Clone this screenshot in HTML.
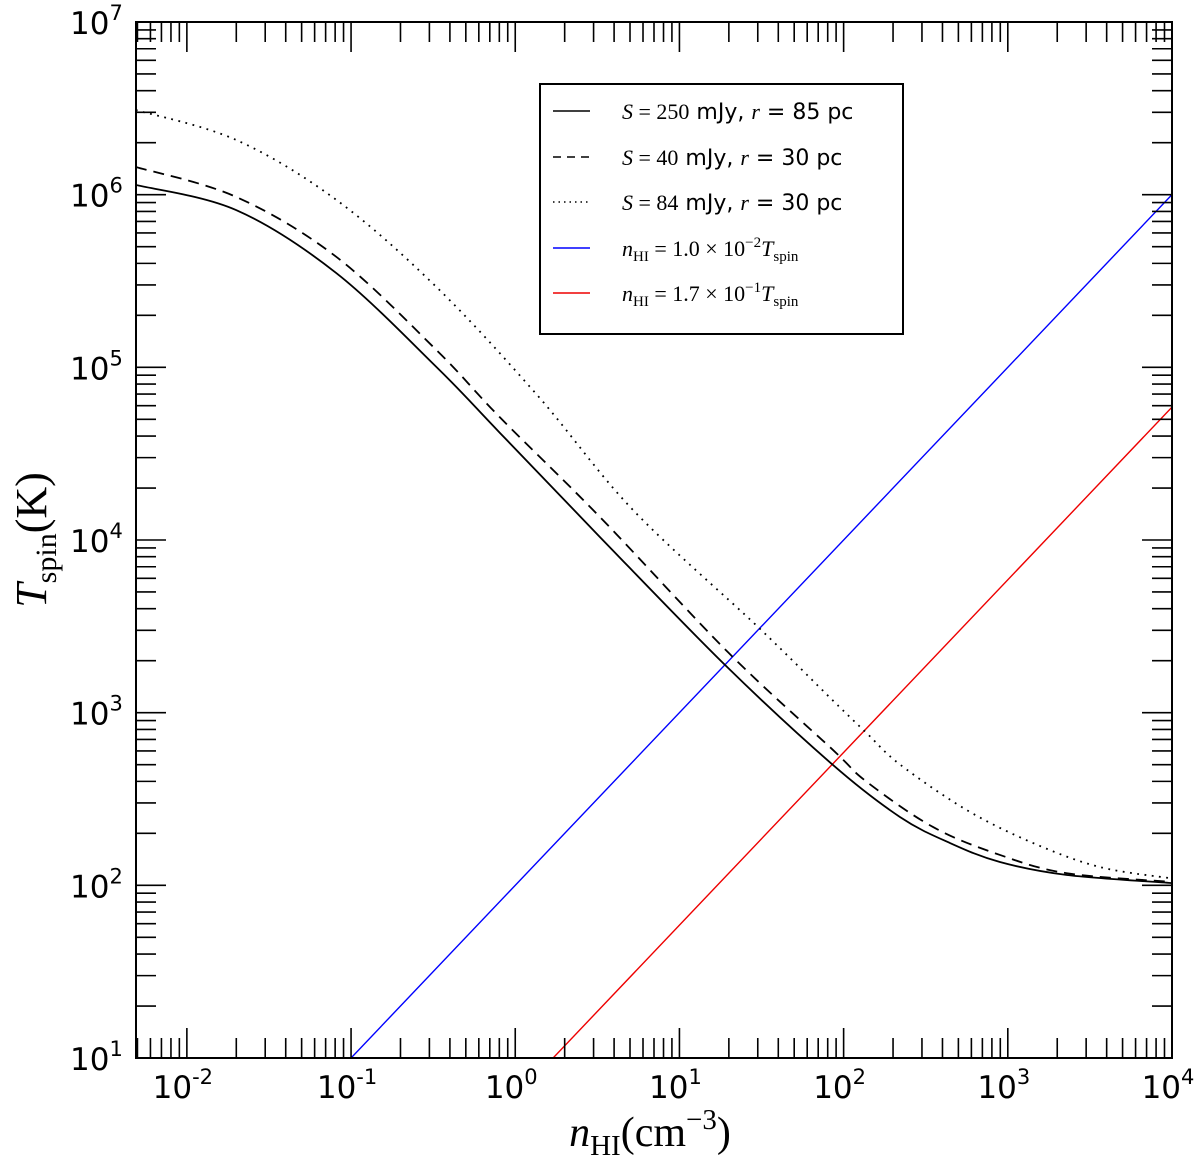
<!DOCTYPE html>
<html><head><meta charset="utf-8"><style>
html,body{margin:0;background:#fff;overflow:hidden;width:1200px;height:1168px}
svg{display:block;overflow:hidden}
text{font-family:"DejaVu Sans","Liberation Sans",sans-serif}
.m{font-family:"Liberation Serif","DejaVu Serif",serif}
</style></head><body>
<svg id="c" width="1200" height="1168" xmlns="http://www.w3.org/2000/svg">
<rect x="0" y="0" width="1200" height="1168" fill="#fff"/>
<g id="marks"></g>
<g id="axes"></g>
<text class="m" transform="translate(46,540) rotate(-90)" text-anchor="middle" font-size="44"><tspan font-style="italic">T</tspan><tspan font-size="30" dy="10">spin</tspan><tspan dy="-10">(K)</tspan></text>
<text class="m" x="650" y="1146" text-anchor="middle" font-size="42"><tspan font-style="italic">n</tspan><tspan font-size="29" dy="9">HI</tspan><tspan dy="-9">(cm</tspan><tspan font-size="29" dy="-17">−3</tspan><tspan dy="17">)</tspan></text>
<g>
<rect x="540" y="84" width="363" height="250" fill="#fff" stroke="#000" stroke-width="2"/>
<line x1="553" y1="111" x2="590" y2="111" stroke="#000" stroke-width="1.6"/>
<line x1="553" y1="157" x2="590" y2="157" stroke="#000" stroke-width="1.6" stroke-dasharray="8,6"/>
<line x1="553" y1="202" x2="590" y2="202" stroke="#000" stroke-width="1.4" stroke-dasharray="1.5,4"/>
<line x1="553" y1="248" x2="590" y2="248" stroke="#00f" stroke-width="1.6"/>
<line x1="553" y1="293" x2="590" y2="293" stroke="#e00" stroke-width="1.6"/>
<text x="622" y="119" font-size="22"><tspan class="m" font-style="italic">S</tspan><tspan class="m"> = 250</tspan> mJy, <tspan class="m" font-style="italic">r</tspan> = 85 pc</text>
<text x="622" y="165" font-size="22"><tspan class="m" font-style="italic">S</tspan><tspan class="m"> = 40</tspan> mJy,  <tspan class="m" font-style="italic">r</tspan> = 30 pc</text>
<text x="622" y="210" font-size="22"><tspan class="m" font-style="italic">S</tspan><tspan class="m"> = 84</tspan> mJy,  <tspan class="m" font-style="italic">r</tspan> = 30 pc</text>
<text class="m" x="622" y="256" font-size="22"><tspan font-style="italic">n</tspan><tspan font-size="15" dy="5">HI</tspan><tspan dy="-5"> = 1.0 × 10</tspan><tspan font-size="15" dy="-9">−2</tspan><tspan font-style="italic" dy="9">T</tspan><tspan font-size="15" dy="5">spin</tspan></text>
<text class="m" x="622" y="301" font-size="22"><tspan font-style="italic">n</tspan><tspan font-size="15" dy="5">HI</tspan><tspan dy="-5"> = 1.7 × 10</tspan><tspan font-size="15" dy="-9">−1</tspan><tspan font-style="italic" dy="9">T</tspan><tspan font-size="15" dy="5">spin</tspan></text>
</g>
</svg>
<script>
// data (log10 values)
const solidLogN = [-2.31,-1.70,-1.09,-0.48,-0.093,0.516,1.278,1.935,2.343,2.648,2.952,3.36,4.0];
const solidLogT = [6.056,5.911,5.546,5.002,4.62,4.017,3.276,2.697,2.396,2.245,2.135,2.06,2.013];
const dashedLogN = [-2.31,-1.70,-1.09,-0.48,-0.093,0.516,1.30,1.935,2.14,2.544,2.952,3.36,4.0];
const dashedLogT = [6.16,5.987,5.64,5.10,4.71,4.133,3.346,2.784,2.60,2.338,2.176,2.07,2.02];
const dottedLogN = [-2.31,-1.70,-1.09,-0.48,0.133,0.717,1.479,1.935,2.142,2.343,2.75,3.154,3.56,4.0];
const dottedLogT = [6.49,6.317,5.97,5.465,4.84,4.174,3.496,3.07,2.88,2.70,2.436,2.245,2.106,2.04];
const blueCoef = 1.0e-2;
const redCoef = 1.7e-1;
const xTickExp = [-2,-1,0,1,2,3,4];
const yTickExp = [1,2,3,4,5,6,7];

const L=136,R=1172,T=22,B=1058;
const xMin=Math.log10(0.0049),xMax=4,yMin=1,yMax=7;
const X=v=>L+(v-xMin)/(xMax-xMin)*(R-L);
const Y=v=>B-(v-yMin)/(yMax-yMin)*(B-T);
const NS="http://www.w3.org/2000/svg";
const marks=document.getElementById('marks'),axes=document.getElementById('axes');
function el(t,a,p){const e=document.createElementNS(NS,t);for(const k in a)e.setAttribute(k,a[k]);p.appendChild(e);return e;}
function smooth(xs,ys){
  const p=xs.map((x,i)=>[X(x),Y(ys[i])]);
  let d='M'+p[0][0]+','+p[0][1];
  for(let i=0;i<p.length-1;i++){
    const p0=p[Math.max(0,i-1)],p1=p[i],p2=p[i+1],p3=p[Math.min(p.length-1,i+2)];
    const c1=[p1[0]+(p2[0]-p0[0])/6,p1[1]+(p2[1]-p0[1])/6];
    const c2=[p2[0]-(p3[0]-p1[0])/6,p2[1]-(p3[1]-p1[1])/6];
    d+=`C${c1[0]},${c1[1]} ${c2[0]},${c2[1]} ${p2[0]},${p2[1]}`;
  }
  return d;
}
const clip=el('clipPath',{id:'cp'},el('defs',{},marks));
el('rect',{x:L,y:T,width:R-L,height:B-T},clip);
const g=el('g',{'clip-path':'url(#cp)'},marks);
function rel(coef,color,name){
  const l1=xMin,l2=xMax;
  const e=el('line',{x1:X(l1),y1:Y(l1-Math.log10(coef)),x2:X(l2),y2:Y(l2-Math.log10(coef)),stroke:color,'stroke-width':1.4},g);
  
  
}
rel(blueCoef,'#00f','blue-relation-line');
rel(redCoef,'#e00','red-relation-line');
let s=el('path',{d:smooth(solidLogN,solidLogT),fill:'none',stroke:'#000','stroke-width':1.8},g);


s=el('path',{d:smooth(dashedLogN,dashedLogT),fill:'none',stroke:'#000','stroke-width':1.8,'stroke-dasharray':'11,7'},g);


s=el('path',{d:smooth(dottedLogN,dottedLogT),fill:'none',stroke:'#000','stroke-width':1.8,'stroke-dasharray':'1.8,5.5'},g);



const fr=el('rect',{x:L,y:T,width:R-L,height:B-T,fill:'none',stroke:'#000','stroke-width':2},axes);


const tk={stroke:'#000','stroke-width':1.6};
for(let e=-3;e<=4;e++){for(let m=1;m<10;m++){
  const v=e+Math.log10(m); if(v<xMin||v>xMax+1e-9)continue; if(m>1&&e===4)continue;
  const len=m===1?30:20,x=X(v);
  el('line',Object.assign({x1:x,y1:B,x2:x,y2:B-len},tk),axes);
  el('line',Object.assign({x1:x,y1:T,x2:x,y2:T+len},tk),axes);
}}
for(let e=1;e<=7;e++){for(let m=1;m<10;m++){
  const v=e+Math.log10(m); if(v>yMax+1e-9)continue; if(m>1&&e===7)continue;
  const len=m===1?30:20,y=Y(v);
  el('line',Object.assign({x1:L,y1:y,x2:L+len,y2:y},tk),axes);
  el('line',Object.assign({x1:R,y1:y,x2:R-len,y2:y},tk),axes);
}}
xTickExp.forEach(e=>{
  const t=el('text',{x:X(e)-4,y:1098,'text-anchor':'middle','font-size':31},axes);
  
  
  t.innerHTML='10<tspan font-size="21" dy="-14">'+(e<0?'-':'')+Math.abs(e)+'</tspan>';
});
yTickExp.forEach(e=>{
  const t=el('text',{x:70,y:Y(e)+12,'font-size':31},axes);
  
  
  t.innerHTML='10<tspan font-size="21" dy="-14">'+e+'</tspan>';
});
</script>
</body></html>
